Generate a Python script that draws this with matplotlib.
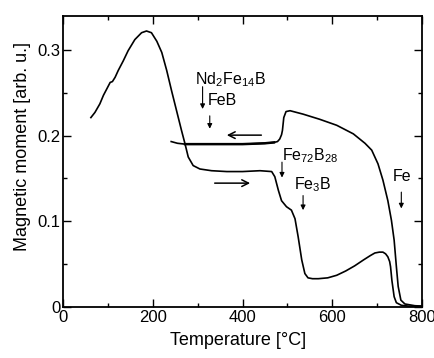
"""Thermomagnetic curve: heating / cooling of Nd-Fe-B sample."""
import matplotlib
matplotlib.use("Agg")
import matplotlib.pyplot as plt

plt.rcParams.update({
    "font.family": ["Liberation Sans", "DejaVu Sans"],
    "font.size": 12,
    "mathtext.fontset": "custom",
    "mathtext.rm": "Liberation Sans",
    "mathtext.it": "Liberation Sans",
    "mathtext.default": "regular",
    "figure.facecolor": "white", "savefig.facecolor": "white",
})

# ── Data ─────────────────────────────────────────────────────
heat_T = [62, 71, 82, 90, 97, 105, 110, 116, 123, 134, 145, 160, 175, 186,
          197, 209, 220, 231, 242, 253, 264, 272, 279, 290, 305, 331, 365,
          400, 439, 465, 472, 480, 487, 498, 509, 517, 524, 532, 539, 546,
          556, 569, 590, 610, 630, 650, 670, 685, 695, 705, 713, 719, 724,
          728, 730, 733, 738, 743, 754, 770, 800]
heat_M = [0.221, 0.227, 0.237, 0.247, 0.254, 0.262, 0.263, 0.268, 0.276,
          0.287, 0.299, 0.312, 0.320, 0.322, 0.320, 0.310, 0.297, 0.276,
          0.252, 0.229, 0.206, 0.190, 0.175, 0.165, 0.161, 0.159, 0.158,
          0.158, 0.159, 0.158, 0.152, 0.136, 0.124, 0.117, 0.113, 0.103,
          0.082, 0.055, 0.039, 0.034, 0.033, 0.033, 0.034, 0.037, 0.042,
          0.048, 0.055, 0.060, 0.063, 0.064, 0.064, 0.062, 0.0585, 0.053,
          0.047, 0.031, 0.012, 0.005, 0.002, 0.001, 0.001]

cool_T = [241, 255, 272, 300, 350, 400, 450, 470, 478, 483, 487, 489, 492,
          497, 506, 535, 572, 610, 647, 673, 688, 702, 713, 724, 732, 738,
          743, 747, 753, 762, 784, 800]
cool_M = [0.193, 0.191, 0.190, 0.190, 0.190, 0.190, 0.191, 0.192, 0.193,
          0.196, 0.201, 0.206, 0.221, 0.228, 0.229, 0.225, 0.219, 0.212,
          0.202, 0.191, 0.183, 0.167, 0.148, 0.124, 0.101, 0.078, 0.047,
          0.024, 0.008, 0.0035, 0.0015, 0.001]

# (label, text_T, text_M, arrow_T, arrow_M_start, arrow_M_end)
phase_labels = [
    ("Nd$_2$Fe$_{14}$B", 294, 0.265, 311, 0.257, 0.231),
    ("FeB", 323, 0.241, 327, 0.223, 0.208),
    ("Fe$_{72}$B$_{28}$", 487, 0.176, 488, 0.169, 0.151),
    ("Fe$_3$B", 515, 0.143, 535, 0.130, 0.113),
    ("Fe", 734, 0.152, 754, 0.134, 0.115),
]

# ── Draw ─────────────────────────────────────────────────────
fig = plt.figure(figsize=(4.35, 3.58), dpi=100)
ax = fig.add_axes([0.145, 0.1425, 0.825, 0.814])

ax.plot(heat_T, heat_M, color="black", lw=1.2)
ax.plot(cool_T, cool_M, color="black", lw=1.2)
ax.plot(cool_T[2:8], cool_M[2:8], color="black", lw=1.8)  # noisy plateau

ax.set_xlim(0, 800)
ax.set_ylim(0, 0.34)
ax.set_xticks([0, 200, 400, 600, 800])
ax.set_xticklabels(["0", "200", "400", "600", "800"])
ax.set_xticks([100, 300, 500, 700], minor=True)
ax.set_yticks([0, 0.1, 0.2, 0.3])
ax.set_yticklabels(["0", "0.1", "0.2", "0.3"])
ax.set_yticks([0.05, 0.15, 0.25], minor=True)
ax.tick_params(which="both", direction="in", top=True, right=True,
               width=1.0, labelsize=12, pad=2)
ax.tick_params(which="major", length=6)
ax.tick_params(which="minor", length=3)
for s in ax.spines.values():
    s.set_linewidth(1.3)

ax.set_xlabel("Temperature [°C]", fontsize=13, labelpad=1)
ax.xaxis.set_label_coords(0.487, -0.085)
ax.set_ylabel("Magnetic moment [arb. u.]", fontsize=13, labelpad=2)
ax.yaxis.set_label_coords(-0.09, 0.55)

for label, tx, ty, axx, y0, y1 in phase_labels:
    ax.text(tx, ty, label, fontsize=11.5, ha="left", va="center")
    ax.annotate("", xy=(axx, y1), xytext=(axx, y0),
                arrowprops=dict(arrowstyle="-|>", lw=0.8, color="black",
                                mutation_scale=7, shrinkA=0, shrinkB=0))

# heating / cooling direction arrows
ax.annotate("", xy=(365, 0.2005), xytext=(442, 0.2005),
            arrowprops=dict(arrowstyle="->", lw=1.1, color="black",
                            mutation_scale=12, shrinkA=0, shrinkB=0))
ax.annotate("", xy=(417, 0.1445), xytext=(338, 0.1445),
            arrowprops=dict(arrowstyle="->", lw=1.1, color="black",
                            mutation_scale=12, shrinkA=0, shrinkB=0))

fig.savefig("out.png", dpi=100)
plt.close(fig)
